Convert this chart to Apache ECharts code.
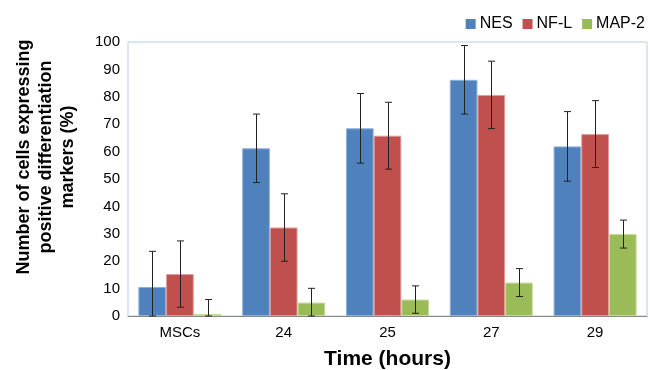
<!DOCTYPE html>
<html>
<head>
<meta charset="utf-8">
<script src="https://cdn.jsdelivr.net/npm/echarts@6/dist/echarts.min.js"></script>
<style>
html, body { margin: 0; padding: 0; background: #fff; }
#main { width: 650px; height: 370px; }
</style>
</head>
<body>
<div id="main"></div>
<script>
var categories = ['MSCs', '24', '25', '27', '29'];
var seriesNames = ['NES', 'NF-L', 'MAP-2'];
var nesValues = [10.6, 61.2, 68.5, 86.2, 61.9];
var nflValues = [15.3, 32.3, 65.8, 80.7, 66.4];
var mapValues = [0.6, 4.9, 6.0, 12.2, 29.9];
var nesErrors = [13.0, 12.5, 12.7, 12.5, 12.7];
var nflErrors = [12.1, 12.3, 12.2, 12.3, 12.2];
var mapErrors = [5.4, 5.2, 5.0, 5.1, 5.1];
var colors = ['#4f81bd', '#c0504d', '#9bbb59'];
var edgeColors = ['#8eb0dc', '#e09c9a', '#c4dc98'];

(function(){
	var myChart = echarts.init(document.getElementById('main'));
	var values = [nesValues, nflValues, mapValues];
	var errors = [nesErrors, nflErrors, mapErrors];
	var font = 'Liberation Sans, Arial, sans-serif';

	// error bars drawn with a custom series, offset to each bar's centre
	function errorSeries(idx) {
		var data = values[idx].map(function (v, i) {
			return [i, Math.max(v - errors[idx][i], 0), v + errors[idx][i]];
		});
		return {
			type: 'custom',
			z: 10,
			renderItem: function (params, api) {
				var band = api.size([1, 0])[0];
				var barW = band * 0.8 / 3;
				var off = (idx - 1) * barW;
				var lo = api.coord([api.value(0), api.value(1)]);
				var hi = api.coord([api.value(0), api.value(2)]);
				var x = Math.round(lo[0] + off) + 0.5;
				var cap = 3.5;
				var style = { stroke: '#222', lineWidth: 1 };
				return {
					type: 'group',
					children: [
						{ type: 'line', shape: { x1: x, y1: lo[1], x2: x, y2: hi[1] }, style: style },
						{ type: 'line', shape: { x1: x - cap, y1: hi[1], x2: x + cap, y2: hi[1] }, style: style },
						{ type: 'line', shape: { x1: x - cap, y1: lo[1], x2: x + cap, y2: lo[1] }, style: style }
					]
				};
			},
			encode: { x: 0, y: [1, 2] },
			data: data,
			silent: true
		};
	}

	var series = [];
	for (var i = 0; i < 3; i++) {
		series.push({
			name: seriesNames[i],
			type: 'bar',
			data: values[i],
			barGap: '0%',
			barCategoryGap: '20%',
			barMinHeight: 2,
			itemStyle: { color: colors[i], borderColor: edgeColors[i], borderWidth: 1 }
		});
	}
	for (var j = 0; j < 3; j++) series.push(errorSeries(j));

	var option = {
		animation: false,
		textStyle: { fontFamily: font },
		legend: {
			data: seriesNames.map(function (n, k) {
				return { name: n, itemStyle: { color: colors[k], borderWidth: 0 } };
			}),
			top: 11,
			right: 0,
			itemWidth: 10,
			itemHeight: 10,
			itemGap: 10,
			icon: 'rect',
			textStyle: { fontSize: 16, color: '#000', fontFamily: font, padding: [0, 0, 0, -1] }
		},
		graphic: [{
			type: 'text',
			x: 46,
			y: 157,
			rotation: Math.PI / 2,
			style: {
				text: 'Number of cells expressing\npositive differentiation\nmarkers (%)',
				fontSize: 18,
				fontWeight: 'bold',
				fontFamily: font,
				lineHeight: 22,
				fill: '#000',
				align: 'center',
				verticalAlign: 'middle'
			}
		}],
		grid: {
			left: 128,
			right: 3,
			top: 42,
			bottom: 54,
			outerBoundsMode: 'none',
			containLabel: false,
			show: true,
			borderColor: '#b9cde5',
			borderWidth: 1
		},
		xAxis: {
			type: 'category',
			data: categories,
			name: 'Time (hours)',
			nameLocation: 'middle',
			nameGap: 33,
			nameTextStyle: { fontSize: 21, fontWeight: 'bold', color: '#000', fontFamily: font },
			axisLine: { lineStyle: { color: '#888' } },
			axisTick: { show: false },
			axisLabel: { fontSize: 15, color: '#000', margin: 9 }
		},
		yAxis: {
			type: 'value',
			min: 0,
			max: 100,
			interval: 10,
			axisLine: { show: false },
			axisTick: { show: false },
			splitLine: { show: false },
			axisLabel: { fontSize: 15, color: '#000', margin: 8 }
		},
		series: series
	};
	myChart.setOption(option);
})();
</script>
</body>
</html>
